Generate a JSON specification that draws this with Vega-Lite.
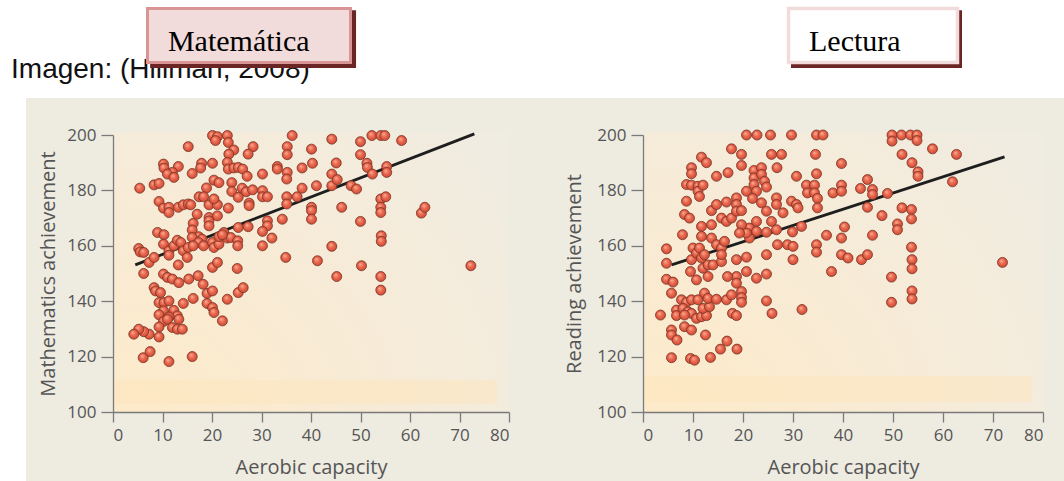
{
  "$schema": "https://vega.github.io/schema/vega-lite/v6.json",
  "background": "white",
  "padding": 0,
  "spacing": 134,
  "bounds": "flush",
  "config": {
    "view": {"stroke": null},
    "axis": {"grid": false, "domainColor": "#7a7a7a", "domainWidth": 1.3, "tickColor": "#7a7a7a", "tickWidth": 1.3, "labelFont": "Open Sans", "labelFontSize": 17, "labelColor": "#555555", "titleFont": "Open Sans", "titleFontSize": 20, "titleFontWeight": "normal", "titleColor": "#555555"},
    "axisX": {"tickSize": 10, "labelPadding": 5, "titlePadding": 14},
    "axisY": {"tickSize": 12, "labelPadding": 5, "titlePadding": 8}
  },
  "datasets": {
    "math": [
      {"aerobic":20.1,"score":199.8},{"aerobic":21.1,"score":199.4},{"aerobic":23.1,"score":199.8},{"aerobic":20.7,"score":198},{"aerobic":23.3,"score":197.3},{"aerobic":36.2,"score":199.8},{"aerobic":44.2,"score":198.5},{"aerobic":52.3,"score":199.8},{"aerobic":54.1,"score":199.8},{"aerobic":54.9,"score":199.8},{"aerobic":58.3,"score":198},{"aerobic":50.0,"score":197.6},{"aerobic":15.2,"score":195.8},{"aerobic":28.3,"score":195.8},{"aerobic":24.4,"score":194.6},{"aerobic":23.4,"score":193.1},{"aerobic":27.3,"score":193.1},{"aerobic":35.2,"score":195.8},{"aerobic":35.2,"score":192.9},{"aerobic":40.1,"score":194.9},{"aerobic":50.0,"score":192.9},{"aerobic":10.2,"score":189.5},{"aerobic":10.3,"score":188.1},{"aerobic":13.2,"score":188.6},{"aerobic":17.9,"score":189.8},{"aerobic":20.1,"score":189.8},{"aerobic":23.1,"score":190.1},{"aerobic":23.3,"score":187.7},{"aerobic":24.4,"score":188.1},{"aerobic":25.3,"score":188.3},{"aerobic":26.2,"score":187.7},{"aerobic":17.7,"score":188.1},{"aerobic":16.0,"score":186.1},{"aerobic":12.0,"score":186.5},{"aerobic":11.0,"score":185.9},{"aerobic":12.3,"score":184.7},{"aerobic":5.4,"score":180.8},{"aerobic":8.3,"score":182},{"aerobic":9.3,"score":182.5},{"aerobic":18.9,"score":180.9},{"aerobic":20.4,"score":183.7},{"aerobic":21.4,"score":182.8},{"aerobic":24.0,"score":182.8},{"aerobic":24.0,"score":179.6},{"aerobic":27.1,"score":185.1},{"aerobic":26.1,"score":180.8},{"aerobic":26.9,"score":179.5},{"aerobic":28.2,"score":180.2},{"aerobic":30.2,"score":185.9},{"aerobic":30.2,"score":179.9},{"aerobic":30.2,"score":177.7},{"aerobic":31.2,"score":177.7},{"aerobic":25.3,"score":177.5},{"aerobic":27.5,"score":175.4},{"aerobic":27.5,"score":174.5},{"aerobic":33.2,"score":188.6},{"aerobic":33.2,"score":187.7},{"aerobic":35.2,"score":186.5},{"aerobic":35.1,"score":184.1},{"aerobic":38.2,"score":188.1},{"aerobic":40.3,"score":189.8},{"aerobic":45.1,"score":189.9},{"aerobic":44.2,"score":185.9},{"aerobic":44.2,"score":181.7},{"aerobic":45.3,"score":183.9},{"aerobic":48.1,"score":181.7},{"aerobic":49.2,"score":180.5},{"aerobic":51.3,"score":189.8},{"aerobic":51.4,"score":188.3},{"aerobic":52.4,"score":185.9},{"aerobic":55.3,"score":188.6},{"aerobic":55.3,"score":186.5},{"aerobic":41.1,"score":181.7},{"aerobic":38.2,"score":180.8},{"aerobic":37.2,"score":177.7},{"aerobic":35.1,"score":177.7},{"aerobic":35.1,"score":175.1},{"aerobic":40.1,"score":173.9},{"aerobic":40.1,"score":172.7},{"aerobic":40.1,"score":169.6},{"aerobic":34.2,"score":169.6},{"aerobic":31.2,"score":169},{"aerobic":31.2,"score":167.2},{"aerobic":30.2,"score":165.2},{"aerobic":32.1,"score":162.8},{"aerobic":30.2,"score":160},{"aerobic":34.9,"score":155.8},{"aerobic":44.2,"score":159.8},{"aerobic":41.3,"score":154.6},{"aerobic":45.2,"score":148.9},{"aerobic":46.2,"score":173.9},{"aerobic":50.0,"score":168.8},{"aerobic":50.2,"score":152.8},{"aerobic":54.1,"score":176.9},{"aerobic":54.1,"score":173.9},{"aerobic":54.1,"score":172},{"aerobic":55.1,"score":177.7},{"aerobic":54.2,"score":163.6},{"aerobic":54.2,"score":161.6},{"aerobic":54.1,"score":148.9},{"aerobic":54.1,"score":144},{"aerobic":62.3,"score":171.8},{"aerobic":63.0,"score":173.9},{"aerobic":72.3,"score":152.8},
      {"aerobic":9.3,"score":176},{"aerobic":10.2,"score":173.6},{"aerobic":11.3,"score":173.9},{"aerobic":11.3,"score":172},{"aerobic":13.2,"score":173.9},{"aerobic":14.2,"score":174.8},{"aerobic":15.2,"score":175.1},{"aerobic":15.7,"score":174.8},{"aerobic":17.0,"score":171.4},{"aerobic":17.4,"score":177.7},{"aerobic":18.3,"score":177.7},{"aerobic":19.4,"score":174.8},{"aerobic":19.4,"score":170.2},{"aerobic":19.4,"score":169},{"aerobic":19.4,"score":167.2},{"aerobic":21.1,"score":174.8},{"aerobic":21.1,"score":170.8},{"aerobic":20.4,"score":176.9},{"aerobic":23.3,"score":173.6},{"aerobic":16.2,"score":168.1},{"aerobic":16.0,"score":165.7},{"aerobic":17.3,"score":163.3},{"aerobic":18.0,"score":162.4},{"aerobic":16.0,"score":163},{"aerobic":17.3,"score":161.2},{"aerobic":18.3,"score":160},{"aerobic":20.1,"score":161.2},{"aerobic":20.4,"score":159.4},{"aerobic":21.4,"score":160.6},{"aerobic":21.4,"score":163.3},{"aerobic":22.4,"score":164.8},{"aerobic":23.1,"score":162.8},{"aerobic":23.8,"score":163},{"aerobic":25.3,"score":166.6},{"aerobic":25.2,"score":161.8},{"aerobic":25.2,"score":160},{"aerobic":27.3,"score":166.9},{"aerobic":22.1,"score":164},{"aerobic":9.0,"score":164.8},{"aerobic":10.3,"score":164},{"aerobic":10.2,"score":160.6},{"aerobic":11.3,"score":158.2},{"aerobic":11.3,"score":156.6},{"aerobic":12.3,"score":160},{"aerobic":13.0,"score":162},{"aerobic":13.7,"score":161.2},{"aerobic":13.2,"score":153.1},{"aerobic":14.2,"score":158.2},{"aerobic":15.0,"score":155.8},{"aerobic":15.2,"score":159.4},{"aerobic":16.2,"score":160},{"aerobic":5.2,"score":159},{"aerobic":5.5,"score":157.8},{"aerobic":6.2,"score":157.6},{"aerobic":7.3,"score":154},{"aerobic":8.3,"score":155.8},{"aerobic":6.2,"score":150},{"aerobic":10.2,"score":149.8},{"aerobic":11.0,"score":148.6},{"aerobic":12.0,"score":148},{"aerobic":13.3,"score":146.7},{"aerobic":15.3,"score":148},{"aerobic":17.2,"score":149.2},{"aerobic":18.2,"score":146.1},{"aerobic":19.0,"score":142.8},{"aerobic":20.1,"score":143.7},{"aerobic":19.0,"score":139.2},{"aerobic":20.1,"score":137.7},{"aerobic":20.4,"score":135.9},{"aerobic":20.1,"score":152.2},{"aerobic":21.1,"score":154},{"aerobic":25.1,"score":151.8},{"aerobic":25.3,"score":143.1},{"aerobic":26.3,"score":144.9},{"aerobic":23.1,"score":140.7},{"aerobic":22.1,"score":132.9},{"aerobic":16.2,"score":141},{"aerobic":14.2,"score":139.2},{"aerobic":8.3,"score":144.9},{"aerobic":8.6,"score":143.7},{"aerobic":9.6,"score":143.1},{"aerobic":9.3,"score":139.5},{"aerobic":10.3,"score":139.5},{"aerobic":11.3,"score":140.1},{"aerobic":10.2,"score":136.5},{"aerobic":9.3,"score":135.1},{"aerobic":12.3,"score":136.7},{"aerobic":13.0,"score":134.7},{"aerobic":13.3,"score":133.5},{"aerobic":11.3,"score":134.3},{"aerobic":10.2,"score":132.7},{"aerobic":11.0,"score":133.5},{"aerobic":12.0,"score":130.5},{"aerobic":13.0,"score":129.9},{"aerobic":14.0,"score":129.9},{"aerobic":9.3,"score":130.7},{"aerobic":9.3,"score":127.1},{"aerobic":7.3,"score":128.1},{"aerobic":6.2,"score":129},{"aerobic":5.2,"score":129.9},{"aerobic":4.2,"score":128.1},{"aerobic":6.1,"score":119.6},{"aerobic":7.5,"score":121.8},{"aerobic":11.3,"score":118.2},{"aerobic":16.0,"score":120}
    ],
    "read": [
      {"aerobic":20.7,"score":200},{"aerobic":22.8,"score":200},{"aerobic":25.5,"score":200},{"aerobic":29.7,"score":200},{"aerobic":34.7,"score":200},{"aerobic":36,"score":200},{"aerobic":49.8,"score":200},{"aerobic":49.8,"score":197.8},{"aerobic":51.7,"score":200},{"aerobic":53.5,"score":200},{"aerobic":54.8,"score":200},{"aerobic":54.8,"score":198},{"aerobic":17.7,"score":195},{"aerobic":19.7,"score":193},{"aerobic":25.7,"score":193},{"aerobic":27.7,"score":193},{"aerobic":19.7,"score":189},{"aerobic":26.8,"score":188.2},{"aerobic":34.5,"score":193},{"aerobic":39.7,"score":189.7},{"aerobic":51.8,"score":193},{"aerobic":53.8,"score":190},{"aerobic":55,"score":186.7},{"aerobic":55,"score":185.1},{"aerobic":57.9,"score":195},{"aerobic":62.7,"score":193},{"aerobic":61.9,"score":183.1},{"aerobic":11.7,"score":192},{"aerobic":12.7,"score":190},{"aerobic":9.7,"score":188.2},{"aerobic":9.7,"score":186},{"aerobic":14.7,"score":185.1},{"aerobic":17,"score":186.4},{"aerobic":8.7,"score":182.1},{"aerobic":9.7,"score":181.9},{"aerobic":11,"score":181.5},{"aerobic":11,"score":179.7},{"aerobic":12,"score":181.9},{"aerobic":11.3,"score":177.8},{"aerobic":8.7,"score":176.1},{"aerobic":8.3,"score":171.3},{"aerobic":9.3,"score":170},{"aerobic":7.9,"score":164},{"aerobic":13.7,"score":172.7},{"aerobic":14.7,"score":174.9},{"aerobic":16.7,"score":175.8},{"aerobic":15.7,"score":170},{"aerobic":11.7,"score":167},{"aerobic":11.7,"score":163.4},{"aerobic":13.7,"score":167.6},{"aerobic":13.7,"score":162.8},{"aerobic":16.7,"score":168.8},{"aerobic":17.7,"score":170},{"aerobic":18.7,"score":177.3},{"aerobic":18.7,"score":174.9},{"aerobic":18.7,"score":172.5},{"aerobic":19.7,"score":172.7},{"aerobic":20.7,"score":179.7},{"aerobic":22.2,"score":187.2},{"aerobic":22.2,"score":184.5},{"aerobic":22.2,"score":182.1},{"aerobic":22.7,"score":179.7},{"aerobic":23.7,"score":188.2},{"aerobic":23.7,"score":185.8},{"aerobic":24.3,"score":183.3},{"aerobic":24.7,"score":181.2},{"aerobic":21.9,"score":177.1},{"aerobic":23.7,"score":175.5},{"aerobic":24.7,"score":172.5},{"aerobic":26.7,"score":177.3},{"aerobic":26.7,"score":174.9},{"aerobic":28,"score":171.9},{"aerobic":25.7,"score":168.8},{"aerobic":26.7,"score":165.8},{"aerobic":24.7,"score":164.9},{"aerobic":22.7,"score":168.8},{"aerobic":21.3,"score":166.4},{"aerobic":22.7,"score":165.2},{"aerobic":21.3,"score":162.8},{"aerobic":20.7,"score":164.6},{"aerobic":19.7,"score":167.6},{"aerobic":19.3,"score":164.6},{"aerobic":20.7,"score":155.9},{"aerobic":18.7,"score":155},{"aerobic":20.7,"score":150.7},{"aerobic":22.7,"score":148.3},{"aerobic":24.7,"score":149.8},{"aerobic":24.7,"score":156.8},{"aerobic":26.9,"score":160.4},{"aerobic":28.9,"score":160.4},{"aerobic":30,"score":159.8},{"aerobic":29.7,"score":176.1},{"aerobic":30.7,"score":174.9},{"aerobic":31,"score":173.7},{"aerobic":29.9,"score":165},{"aerobic":30,"score":155},{"aerobic":31.7,"score":167},{"aerobic":30.7,"score":185.1},{"aerobic":32.7,"score":181.9},{"aerobic":32.9,"score":179.1},{"aerobic":34.3,"score":181.9},{"aerobic":34.3,"score":179.1},{"aerobic":34.7,"score":186},{"aerobic":34.9,"score":177.1},{"aerobic":34.9,"score":173.7},{"aerobic":34.7,"score":160.4},{"aerobic":34.7,"score":157.7},{"aerobic":36.7,"score":163.8},{"aerobic":37.7,"score":150.7},{"aerobic":38,"score":179.1},{"aerobic":39.7,"score":181.9},{"aerobic":39.7,"score":179.7},{"aerobic":39.7,"score":162.8},{"aerobic":39.7,"score":156.8},{"aerobic":41,"score":155.6},{"aerobic":40.3,"score":166.8},{"aerobic":43.5,"score":180.7},{"aerobic":44.9,"score":183.9},{"aerobic":44.9,"score":173.9},{"aerobic":45.9,"score":180.3},{"aerobic":45.9,"score":178.5},{"aerobic":43.7,"score":155},{"aerobic":44.9,"score":156.8},{"aerobic":45.9,"score":163.8},{"aerobic":47.8,"score":170.9},{"aerobic":48.9,"score":178.9},{"aerobic":49.7,"score":148.7},{"aerobic":49.7,"score":139.6},{"aerobic":50.9,"score":167.9},{"aerobic":50.9,"score":165.8},{"aerobic":51.8,"score":173.7},{"aerobic":53.7,"score":173.1},{"aerobic":53.7,"score":169.7},{"aerobic":53.7,"score":159.5},{"aerobic":53.8,"score":155},{"aerobic":53.8,"score":151.7},{"aerobic":53.8,"score":143.7},{"aerobic":53.8,"score":140.8},{"aerobic":71.9,"score":154},
      {"aerobic":4.7,"score":158.9},{"aerobic":4.7,"score":153.7},{"aerobic":4.7,"score":147.9},{"aerobic":6,"score":146.9},{"aerobic":5.7,"score":142.9},{"aerobic":3.5,"score":135},{"aerobic":6.7,"score":136.8},{"aerobic":6.7,"score":134.8},{"aerobic":5.7,"score":129.6},{"aerobic":5.7,"score":127.8},{"aerobic":6.8,"score":126},{"aerobic":5.7,"score":119.6},{"aerobic":7.7,"score":140.5},{"aerobic":8.7,"score":139.6},{"aerobic":9.7,"score":140.5},{"aerobic":11,"score":140.5},{"aerobic":8,"score":137.4},{"aerobic":9,"score":136.2},{"aerobic":9.7,"score":135.6},{"aerobic":8.3,"score":135},{"aerobic":10.7,"score":133.8},{"aerobic":11.7,"score":134.4},{"aerobic":12.7,"score":134.8},{"aerobic":12,"score":137.4},{"aerobic":13.3,"score":138},{"aerobic":12.3,"score":142.9},{"aerobic":13,"score":141},{"aerobic":14.7,"score":140.7},{"aerobic":16.7,"score":140.5},{"aerobic":17.7,"score":142.3},{"aerobic":17.9,"score":135.6},{"aerobic":18.7,"score":134.8},{"aerobic":18.7,"score":148.9},{"aerobic":18.7,"score":146.5},{"aerobic":19.7,"score":143.5},{"aerobic":19.7,"score":141.3},{"aerobic":19.7,"score":139.6},{"aerobic":16.9,"score":148.9},{"aerobic":8.3,"score":130.8},{"aerobic":9.7,"score":129.6},{"aerobic":9.5,"score":119.3},{"aerobic":10.3,"score":118.7},{"aerobic":12.5,"score":127.8},{"aerobic":13.5,"score":119.7},{"aerobic":15.5,"score":122.7},{"aerobic":16.8,"score":125.6},{"aerobic":18.8,"score":122.7},{"aerobic":24.7,"score":140.1},{"aerobic":25.8,"score":135.6},{"aerobic":31.8,"score":137},{"aerobic":9.7,"score":155},{"aerobic":9.5,"score":150.7},{"aerobic":10.7,"score":147.7},{"aerobic":10,"score":159.2},{"aerobic":10.7,"score":157.4},{"aerobic":11.3,"score":159.2},{"aerobic":11.7,"score":155.6},{"aerobic":12.3,"score":156.8},{"aerobic":12,"score":151.9},{"aerobic":13,"score":153.1},{"aerobic":14,"score":153.1},{"aerobic":13,"score":148.9},{"aerobic":15.7,"score":154.3},{"aerobic":14.7,"score":160.4},{"aerobic":15.7,"score":159.2},{"aerobic":16.3,"score":161.6},{"aerobic":15.7,"score":156.8}
    ],
    "mathFit": [{"aerobic":4.5,"score":153.1},{"aerobic":73,"score":200.4}],
    "readFit": [{"aerobic":5.7,"score":153.1},{"aerobic":72.3,"score":192.1}],
    "one": [{"k": 1}]
  },
  "hconcat": [
    {
      "width": 396,
      "height": 277,
      "layer": [
        {"data": {"name": "one"}, "mark": {"type": "rect", "fill": "#ffffff", "clip": false}, "encoding": {"x": {"datum": -22.63, "type": "quantitative", "scale": {"domain": [0, 80], "nice": false, "zero": false}, "axis": {"zindex": 1}}, "x2": {"datum": -17.58}, "y": {"datum": 248.38, "type": "quantitative", "scale": {"domain": [100, 200], "nice": false, "zero": false}, "axis": {"zindex": 1}}, "y2": {"datum": 213.36}}},
        {"data": {"name": "one"}, "mark": {"type": "rect", "fill": "#EEEBE1", "clip": false}, "encoding": {"x": {"datum": -17.58, "type": "quantitative"}, "x2": {"datum": 93.6}, "y": {"datum": 213.36, "type": "quantitative"}, "y2": {"datum": 71.5}}},
        {"data": {"name": "one"}, "mark": {"type": "rect", "clip": false, "fill": {"gradient": "radial", "x1": 0, "y1": 1, "r1": 0, "x2": 0, "y2": 1, "r2": 1.3, "stops": [{"offset": 0, "color": "#FEEAC6"}, {"offset": 0.55, "color": "#F7EBD7"}, {"offset": 1, "color": "#EFECE2"}]}}, "encoding": {"x": {"datum": 0, "type": "quantitative"}, "x2": {"datum": 80}, "y": {"datum": 100, "type": "quantitative"}, "y2": {"datum": 201}}},
        {"data": {"name": "one"}, "mark": {"type": "rect", "fill": "#FDE6BE", "opacity": 0.55}, "encoding": {"x": {"datum": 0, "type": "quantitative"}, "x2": {"datum": 77.6}, "y": {"datum": 103, "type": "quantitative"}, "y2": {"datum": 111.5}}},
        {"data": {"name": "one"}, "mark": {"type": "text", "text": "Imagen: (Hillman, 2008)", "align": "left", "baseline": "alphabetic", "font": "Liberation Sans", "fontSize": 28, "color": "#111111", "clip": false}, "encoding": {"x": {"datum": -20.6, "type": "quantitative"}, "y": {"datum": 220.7, "type": "quantitative"}}},
        {"data": {"name": "one"}, "mark": {"type": "rect", "fill": "#6B2525", "clip": false}, "encoding": {"x": {"datum": 7.5, "type": "quantitative"}, "x2": {"datum": 49.1}, "y": {"datum": 245.0, "type": "quantitative"}, "y2": {"datum": 224.2}}},
        {"data": {"name": "one"}, "mark": {"type": "rect", "fill": "#F2DBDB", "stroke": "#D99594", "strokeWidth": 3, "clip": false}, "encoding": {"x": {"datum": 6.97, "type": "quantitative"}, "x2": {"datum": 47.98}, "y": {"datum": 245.7, "type": "quantitative"}, "y2": {"datum": 226.2}}},
        {"data": {"name": "one"}, "mark": {"type": "text", "text": "Matemática", "align": "left", "baseline": "alphabetic", "font": "Liberation Serif", "fontSize": 30, "color": "#000000", "clip": false}, "encoding": {"x": {"datum": 11.1, "type": "quantitative"}, "y": {"datum": 230.4, "type": "quantitative"}}},
        {"data": {"name": "mathFit"}, "mark": {"type": "line", "color": "#1e1e1e", "strokeWidth": 2.8}, "encoding": {"x": {"field": "aerobic", "type": "quantitative"}, "y": {"field": "score", "type": "quantitative"}}},
        {"data": {"name": "math"}, "mark": {"type": "point", "shape": "circle", "filled": true, "size": 100, "opacity": 1, "stroke": "#7A3526", "strokeWidth": 0.8, "fill": {"gradient": "radial", "x1": 0.38, "y1": 0.32, "r1": 0, "x2": 0.5, "y2": 0.5, "r2": 0.55, "stops": [{"offset": 0, "color": "#FBB49C"}, {"offset": 0.45, "color": "#EC6B52"}, {"offset": 1, "color": "#C7452F"}]}},
         "encoding": {
           "x": {"field": "aerobic", "type": "quantitative", "scale": {"domain": [0, 80], "nice": false, "zero": false}, "axis": {"title": "Aerobic capacity", "values": [0,10,20,30,40,50,60,70,80], "zindex": 1}},
           "y": {"field": "score", "type": "quantitative", "scale": {"domain": [100, 200], "nice": false, "zero": false}, "axis": {"title": "Mathematics achievement", "values": [100,120,140,160,180,200], "zindex": 1}}
         }}
      ]
    },
    {
      "width": 400,
      "height": 277,
      "layer": [
        {"data": {"name": "one"}, "mark": {"type": "rect", "fill": "#EEEBE1", "clip": false}, "encoding": {"x": {"datum": -14.4, "type": "quantitative", "scale": {"domain": [0, 80], "nice": false, "zero": false}, "axis": {"zindex": 1}}, "x2": {"datum": 86.6}, "y": {"datum": 213.36, "type": "quantitative", "scale": {"domain": [100, 200], "nice": false, "zero": false}, "axis": {"zindex": 1}}, "y2": {"datum": 71.5}}},
        {"data": {"name": "one"}, "mark": {"type": "rect", "clip": false, "fill": {"gradient": "radial", "x1": 0, "y1": 1, "r1": 0, "x2": 0, "y2": 1, "r2": 1.3, "stops": [{"offset": 0, "color": "#FEEAC6"}, {"offset": 0.55, "color": "#F7EBD7"}, {"offset": 1, "color": "#EFECE2"}]}}, "encoding": {"x": {"datum": 0, "type": "quantitative"}, "x2": {"datum": 80}, "y": {"datum": 100, "type": "quantitative"}, "y2": {"datum": 201}}},
        {"data": {"name": "one"}, "mark": {"type": "rect", "fill": "#FDE6BE", "opacity": 0.55}, "encoding": {"x": {"datum": 0, "type": "quantitative"}, "x2": {"datum": 77.7}, "y": {"datum": 103.6, "type": "quantitative"}, "y2": {"datum": 113}}},
        {"data": {"name": "one"}, "mark": {"type": "rect", "fill": "#6B2525", "clip": false}, "encoding": {"x": {"datum": 29.6, "type": "quantitative"}, "x2": {"datum": 63.8}, "y": {"datum": 245.0, "type": "quantitative"}, "y2": {"datum": 224.2}}},
        {"data": {"name": "one"}, "mark": {"type": "rect", "fill": "#FFFFFF", "stroke": "#F2DCDB", "strokeWidth": 3.5, "clip": false}, "encoding": {"x": {"datum": 29.1, "type": "quantitative"}, "x2": {"datum": 62.9}, "y": {"datum": 245.7, "type": "quantitative"}, "y2": {"datum": 226.2}}},
        {"data": {"name": "one"}, "mark": {"type": "text", "text": "Lectura", "align": "left", "baseline": "alphabetic", "font": "Liberation Serif", "fontSize": 30, "color": "#000000", "clip": false}, "encoding": {"x": {"datum": 33.2, "type": "quantitative"}, "y": {"datum": 230.4, "type": "quantitative"}}},
        {"data": {"name": "readFit"}, "mark": {"type": "line", "color": "#1e1e1e", "strokeWidth": 2.8}, "encoding": {"x": {"field": "aerobic", "type": "quantitative"}, "y": {"field": "score", "type": "quantitative"}}},
        {"data": {"name": "read"}, "mark": {"type": "point", "shape": "circle", "filled": true, "size": 100, "opacity": 1, "stroke": "#7A3526", "strokeWidth": 0.8, "fill": {"gradient": "radial", "x1": 0.38, "y1": 0.32, "r1": 0, "x2": 0.5, "y2": 0.5, "r2": 0.55, "stops": [{"offset": 0, "color": "#FBB49C"}, {"offset": 0.45, "color": "#EC6B52"}, {"offset": 1, "color": "#C7452F"}]}},
         "encoding": {
           "x": {"field": "aerobic", "type": "quantitative", "scale": {"domain": [0, 80], "nice": false, "zero": false}, "axis": {"title": "Aerobic capacity", "values": [0,10,20,30,40,50,60,70,80], "zindex": 1}},
           "y": {"field": "score", "type": "quantitative", "scale": {"domain": [100, 200], "nice": false, "zero": false}, "axis": {"title": "Reading achievement", "values": [100,120,140,160,180,200], "zindex": 1, "titlePadding": 12}}
         }}
      ]
    }
  ]
}
